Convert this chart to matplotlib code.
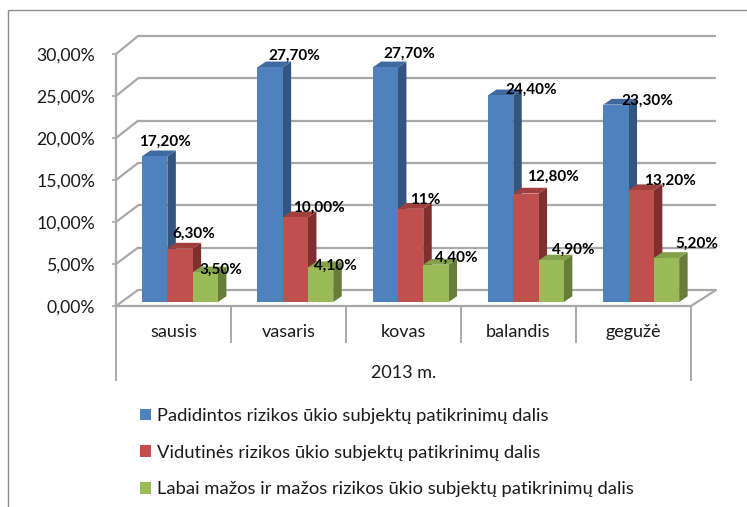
import matplotlib
matplotlib.use("Agg")
import matplotlib.pyplot as plt
from matplotlib.patches import ConnectionPatch, Patch, Rectangle

plt.rcParams['font.family'] = ['Lato', 'DejaVu Sans']

months = ['sausis', 'vasaris', 'kovas', 'balandis', 'gegužė']
high = [17.2, 27.7, 27.7, 24.4, 23.3]
medium = [6.3, 10.0, 11.0, 12.8, 13.2]
low = [3.5, 4.1, 4.4, 4.9, 5.2]
high_labels = ['17,20%', '27,70%', '27,70%', '24,40%', '23,30%']
medium_labels = ['6,30%', '10,00%', '11%', '12,80%', '13,20%']
low_labels = ['3,50%', '4,10%', '4,40%', '4,90%', '5,20%']
y_ticks = [0, 5, 10, 15, 20, 25, 30]
y_labels = ['0,00%', '5,00%', '10,00%', '15,00%', '20,00%', '25,00%', '30,00%']
year = '2013 m.'
legend_names = ['Padidintos rizikos ūkio subjektų patikrinimų dalis',
                'Vidutinės rizikos ūkio subjektų patikrinimų dalis',
                'Labai mažos ir mažos rizikos ūkio subjektų patikrinimų dalis']

# label nudges from the top of each bar, in pixels
high_off = [(10, 15), (24, 12), (24, 14), (31, 6), (31, 4)]
medium_off = [(14, 15), (24, 10), (15, 9), (27, 17), (29, 9)]
low_off = [(16, 3), (15, 1), (20, 7), (22, 11), (30, 14)]

W, H = 747, 507
GRID = '#a9a9a9'
fig = plt.figure(figsize=(W / 100, H / 100), dpi=100)


def make_axes(left, right, bottom, top, z):
    a = fig.add_axes([left / W, 1 - bottom / H, (right - left) / W, (bottom - top) / H])
    a.set_xlim(0, 5)
    a.set_ylim(0, 30)
    a.patch.set_visible(False)
    a.set_zorder(z)
    return a


# chart border, cut off by the image on the right and at the bottom
fig.add_artist(Rectangle((8 / W, -0.1), 1.1, 1.1 - 10 / H, fill=False,
                         edgecolor='#8c8c8c', linewidth=1.0, transform=fig.transFigure))

back = make_axes(138, 716, 290, 36, 0)
back.axis('off')
back.hlines(y_ticks, 0, 5, color=GRID, linewidth=1.6, clip_on=False)

ax = make_axes(116, 691, 306, 54, 1)
for s in ['top', 'right']:
    ax.spines[s].set_visible(False)
for s in ['left', 'bottom']:
    ax.spines[s].set_color(GRID)
    ax.spines[s].set_linewidth(1.6)
ax.set_yticks(y_ticks, y_labels)
ax.tick_params(axis='y', length=3, width=1.2, color=GRID, pad=12, labelsize=12.7, labelcolor='#1a1a1a')
ax.set_xticks([i + 0.5 for i in range(5)], months)
ax.tick_params(axis='x', length=0, pad=13, labelsize=13, labelcolor='#1a1a1a')

# left wall and floor edges between front plane and back wall
for t in y_ticks:
    fig.add_artist(ConnectionPatch((0, t), (0, t), coordsA=ax.transData, coordsB=back.transData,
                                   color=GRID, linewidth=1.6))
fig.add_artist(ConnectionPatch((5, 0), (5, 0), coordsA=ax.transData, coordsB=back.transData,
                               color=GRID, linewidth=1.6))

# multi level category axis
py = 30 / 252
ax.vlines([1, 2, 3, 4], -37 * py, 0, color=GRID, linewidth=1.4, clip_on=False)
ax.vlines([0, 5], -75 * py, 0, color=GRID, linewidth=1.4, clip_on=False)
ax.text(2.5, -67 * py, year, ha='center', va='center', fontsize=13, color='#1a1a1a')

# bars sit a little behind the front plane and have their own scale
bars = make_axes(122.35, 698.85, 302, 47.9, 2)
bars.axis('off')
bar_w = 25.3 / 115.3
dep_x = 8.5 / 115.3
dep_y = 5.8 / 8.47
series = [
    (high, high_labels, high_off, '#4f81bd', '#34557f', '#3f6a9f'),
    (medium, medium_labels, medium_off, '#c0504d', '#7f302e', '#a03f3c'),
    (low, low_labels, low_off, '#9bbb59', '#677d3a', '#83a04a'),
]
for k, (vals, labs, offs, front, side, top) in enumerate(series):
    xs = [i + 0.5 - 1.5 * bar_w + k * bar_w for i in range(5)]
    for x0, v in zip(xs, vals):
        x1 = x0 + bar_w
        bars.fill([x1, x1 + dep_x, x1 + dep_x, x1], [0, dep_y, v + dep_y, v], color=side, linewidth=0, zorder=2 + k)
        bars.fill([x0, x1, x1 + dep_x, x0 + dep_x], [v, v, v + dep_y, v + dep_y], color=top, linewidth=0, zorder=2 + k)
    bars.bar(xs, vals, bar_w, align='edge', color=front, linewidth=0, zorder=2 + k)
bars.set_xlim(0, 5)
bars.set_ylim(0, 30)

# data labels go on top of everything
for k, (vals, labs, offs, front, side, top) in enumerate(series):
    for i, v in enumerate(vals):
        xc = i + 0.5 - 1.5 * bar_w + k * bar_w + bar_w / 2
        bars.annotate(labs[i], (xc, v), xytext=offs[i], textcoords='offset pixels',
                      ha='center', va='center', fontsize=11, fontweight='bold',
                      color='black', zorder=10, annotation_clip=False)

handles = [Patch(facecolor=c, linewidth=0) for c in ['#4f81bd', '#c0504d', '#9bbb59']]
fig.legend(handles, legend_names, loc='upper left', bbox_to_anchor=(140 / W, 1 - 408 / H),
           frameon=False, fontsize=13.2, labelspacing=1.12, handlelength=0.62, handleheight=0.62,
           handletextpad=0.33, labelcolor='#1a1a1a', borderpad=0, borderaxespad=0)

fig.savefig('out.png', dpi=100)
